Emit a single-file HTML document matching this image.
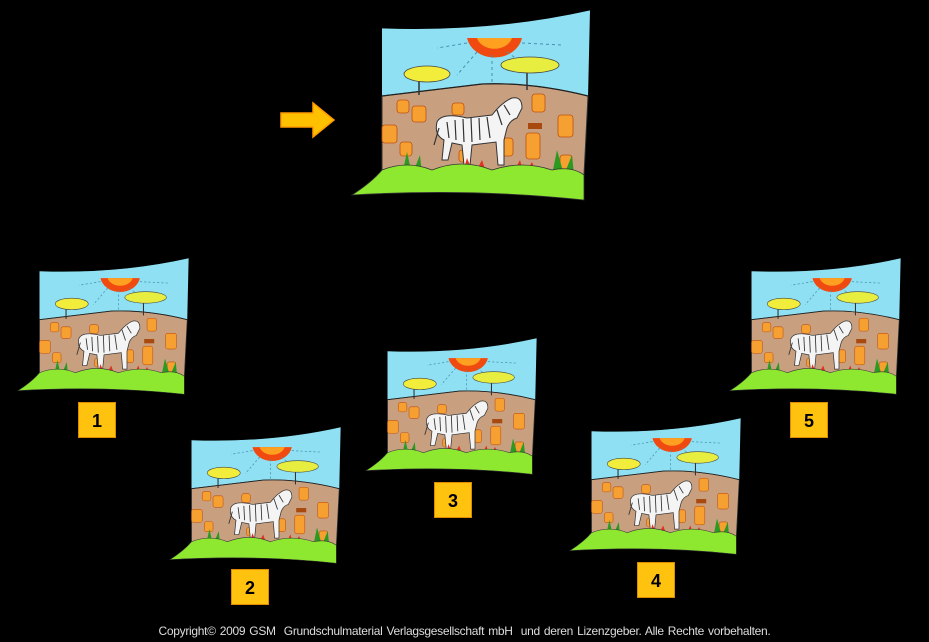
<!DOCTYPE html>
<html><head><meta charset="utf-8"><style>
html,body{margin:0;padding:0;background:#000;}
body{width:929px;height:642px;position:relative;overflow:hidden;font-family:"Liberation Sans",sans-serif;}
.n{position:absolute;width:38px;height:36px;background:#ffc20e;border:1px solid #e08a00;box-sizing:border-box;color:#000;font-weight:bold;font-size:18px;text-align:center;line-height:36px;}
.c{position:absolute;left:0;width:929px;top:624px;text-align:center;color:#ddd;font-size:12px;letter-spacing:-0.3px;word-spacing:1px;}
</style></head><body>
<svg width="929" height="642" style="position:absolute;left:0;top:0">
<defs>
<symbol id="pic" viewBox="0 0 240 192" width="240" height="192" overflow="visible">
<path d="M30 18 Q140 22 238 0 L236 88 L30 86 Z" fill="#8ee0f2"/>
<path d="M30 86 Q80 80 130 74 Q180 72 236 86 L232 165 L30 165 Z" fill="#c8a080" stroke="#333" stroke-width="1"/>
<path d="M30 86 Q80 80 130 74 Q180 72 236 86" fill="none" stroke="#222" stroke-width="1.2"/>
<path d="M115 28 A28 24 0 0 0 170 28 Z" fill="#f04a10"/>
<path d="M125 28 A18 14 0 0 0 160 28 Z" fill="#ffa020"/>
<g stroke="#4a8fb0" stroke-width="1" stroke-dasharray="3 3">
<line x1="140" y1="45" x2="140" y2="75"/><line x1="125" y1="42" x2="105" y2="65"/><line x1="155" y1="42" x2="180" y2="60"/><line x1="115" y1="33" x2="85" y2="38"/><line x1="170" y1="33" x2="210" y2="35"/>
</g>
<line x1="67" y1="70" x2="67" y2="85" stroke="#333" stroke-width="1.5"/>
<ellipse cx="75" cy="64" rx="23" ry="8" fill="#f2ec3a" stroke="#444" stroke-width="0.8"/>
<line x1="175" y1="60" x2="175" y2="80" stroke="#333" stroke-width="1.5"/>
<ellipse cx="178" cy="55" rx="29" ry="8" fill="#e8ee40" stroke="#444" stroke-width="0.8"/>
<g fill="#f5a030" stroke="#c05010" stroke-width="0.8">
<rect x="45" y="90" width="12" height="13" rx="3"/><rect x="60" y="96" width="14" height="16" rx="3"/><rect x="100" y="93" width="12" height="12" rx="3"/><rect x="180" y="84" width="13" height="18" rx="3"/>
<rect x="30" y="115" width="15" height="18" rx="3"/><rect x="48" y="132" width="12" height="14" rx="3"/><rect x="107" y="140" width="10" height="12" rx="3"/><rect x="148" y="128" width="13" height="18" rx="3"/><rect x="174" y="123" width="14" height="26" rx="3"/><rect x="206" y="105" width="15" height="22" rx="3"/><rect x="208" y="145" width="12" height="18" rx="3"/>
</g>
<rect x="176" y="113" width="14" height="6" fill="#a84a10"/>
<g stroke="#333" stroke-width="1" fill="#f4f4f4">
<path d="M85 112 Q90 102 115 108 L140 105 Q150 92 160 88 Q170 86 170 98 L165 108 Q158 110 155 118 L152 130 L152 155 L146 155 L144 132 L120 135 L118 155 L112 155 L110 135 L100 133 L96 150 L90 150 L92 130 Q82 125 85 112 Z"/>
</g>
<g stroke="#333" stroke-width="1.2" fill="none">
<path d="M95 112 L97 128"/><path d="M103 110 L104 130"/><path d="M111 109 L112 132"/><path d="M119 108 L120 132"/><path d="M127 108 L128 130"/><path d="M135 107 L138 128"/><path d="M145 100 L150 115"/><path d="M152 95 L158 105"/><path d="M87 118 L82 135"/>
</g>
<g fill="#2a9a20"><path d="M50 165 L55 142 L60 165 L68 145 L70 165Z"/><path d="M200 165 L205 140 L212 165 L220 145 L222 165Z"/></g>
<g fill="#e03020"><path d="M110 165 L115 148 L122 165 L130 150 L135 165Z"/><path d="M160 165 L168 150 L172 165 L180 152 L185 165Z"/></g>
<path d="M30 160 Q55 150 80 160 Q110 148 140 160 Q170 150 200 160 Q220 156 232 165 L232 190 Q120 178 0 185 Q20 172 30 160 Z" fill="#8ee830" stroke="#333" stroke-width="0.8"/>
<path d="M30 18 Q140 22 238 0" fill="none" stroke="#000" stroke-width="0.8"/>
</symbol>
</defs>
<use href="#pic" x="352" y="10"/>
<use href="#pic" transform="translate(18,258) scale(0.717)"/>
<use href="#pic" transform="translate(170,427) scale(0.717)"/>
<use href="#pic" transform="translate(366,338) scale(0.717)"/>
<use href="#pic" transform="translate(570,418) scale(0.717)"/>
<use href="#pic" transform="translate(730,258) scale(0.717)"/>
<path d="M281 113 L313 113 L313 103 L334 120 L313 137 L313 127 L281 127 Z" fill="#ffc000" stroke="#ff9a00" stroke-width="1.5"/>
</svg>
<div class="n" style="left:78px;top:402px">1</div>
<div class="n" style="left:231px;top:569px">2</div>
<div class="n" style="left:434px;top:482px">3</div>
<div class="n" style="left:637px;top:562px">4</div>
<div class="n" style="left:790px;top:402px">5</div>
<div class="c">Copyright© 2009 GSM&nbsp; Grundschulmaterial Verlagsgesellschaft mbH&nbsp; und deren Lizenzgeber. Alle Rechte vorbehalten.</div>
</body></html>
